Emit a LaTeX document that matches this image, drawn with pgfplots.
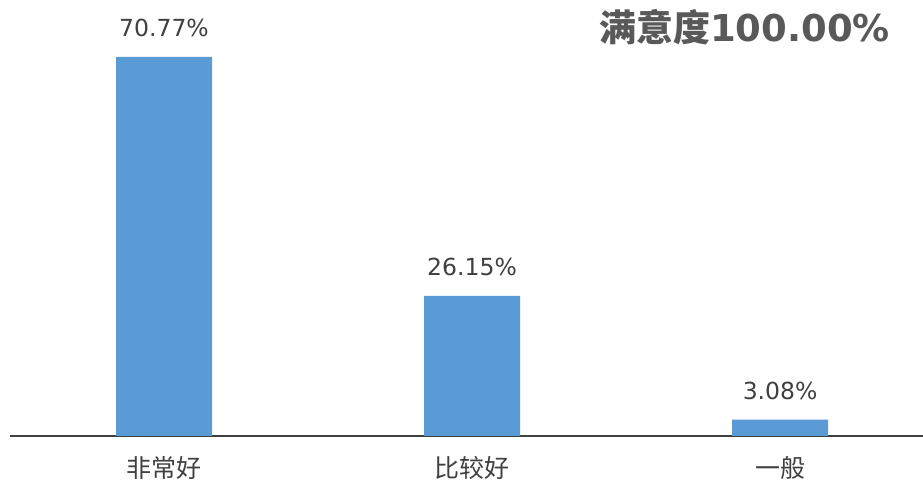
\documentclass[border=0pt]{standalone}
\usepackage{pgfplots}
\pgfplotsset{compat=1.18}
\usepackage{fontspec}
\setmainfont{DejaVu Sans}
\newfontfamily\cjk{Noto Sans CJK SC}
\definecolor{barblue}{HTML}{5B9BD5}
\definecolor{txtgray}{HTML}{404040}
\definecolor{ttlgray}{HTML}{595959}
\begin{document}
\begin{tikzpicture}
\useasboundingbox (-10pt,-48pt) rectangle (913pt,436pt);
\begin{axis}[
  scale only axis,
  width=913pt, height=436pt,
  xmin=-0.5, xmax=2.464,
  ymin=0, ymax=81.4,
  axis x line=bottom,
  axis y line=none,
  axis line style={-, line width=2.5pt, draw=txtgray},
  xtick={0,1,2},
  xticklabels={非常好,比较好,一般},
  major tick length=0pt,
  xticklabel style={font=\cjk\fontsize{25}{29}\selectfont, text=txtgray, anchor=base, yshift=-42pt},
  ybar, bar width=96pt,
  /pgf/number format/assume math mode=true,
  nodes near coords={\pgfmathprintnumber[fixed,fixed zerofill,precision=2,assume math mode=true]{\pgfplotspointmeta}\%},
  nodes near coords style={font=\fontsize{23.5}{27}\selectfont, text=txtgray, anchor=base, yshift=20pt},
  point meta=explicit,
  clip=false,
]
\addplot[fill=barblue, draw=none] coordinates {(0,70.77) [70.77] (1,26.15) [26.15] (2,3.08) [3.08]};
\node[anchor=base east, text=ttlgray, inner sep=0pt, font=\fontsize{37}{41}\selectfont\bfseries] at (rel axis cs:0.964,0.9037) {{\cjk 满意度}100.00\%};
\end{axis}
\end{tikzpicture}
\end{document}
